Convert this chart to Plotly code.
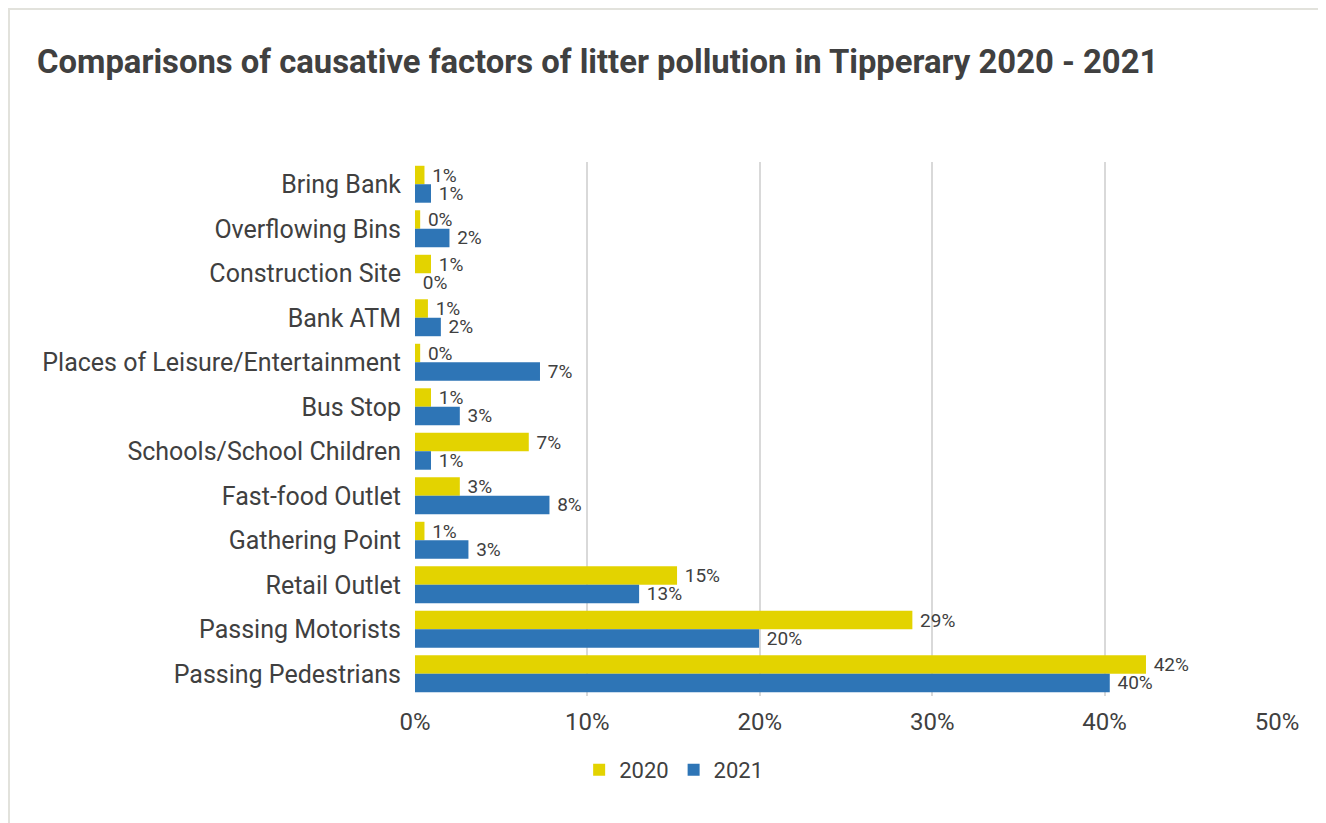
import plotly.graph_objects as go

categories = ["Bring Bank", "Overflowing Bins", "Construction Site", "Bank ATM",
              "Places of Leisure/Entertainment", "Bus Stop", "Schools/School Children",
              "Fast-food Outlet", "Gathering Point", "Retail Outlet",
              "Passing Motorists", "Passing Pedestrians"]
values_2020 = [0.0055, 0.003, 0.0093, 0.0075, 0.003, 0.0093, 0.066, 0.026, 0.0055, 0.152, 0.2885, 0.424]
values_2021 = [0.0093, 0.020, 0.0, 0.015, 0.0725, 0.026, 0.0093, 0.078, 0.031, 0.130, 0.1996, 0.403]
x_ticks = [0, 0.1, 0.2, 0.3, 0.4, 0.5]

TEXT = "#404040"
FONT = "Roboto"

fig = go.Figure()
for name, vals, col in [("2020", values_2020, "#E3D300"), ("2021", values_2021, "#2E75B6")]:
    fig.add_trace(go.Bar(name=name, y=categories, x=vals, orientation="h",
                         marker=dict(color=col, line=dict(width=0)),
                         texttemplate=" %{x:.0%}", textposition="outside",
                         cliponaxis=False, constraintext="none",
                         textfont=dict(size=19, color=TEXT, family=FONT)))

# page has an 8px offset; coordinates below are figure coordinates
W, H = 1326, 823
L, R, T, B = 407, 57, 154, 135
pw, ph = W - L - R, H - T - B

def px(x):
    return (x - L) / pw

def py(y):
    return (H - B - y) / ph

fig.update_layout(
    width=W, height=H,
    margin=dict(l=L, r=R, t=T, b=B),
    paper_bgcolor="white", plot_bgcolor="white",
    barmode="group", bargap=0.17, bargroupgap=0,
    font=dict(family=FONT, color=TEXT, size=22),
    title=dict(text="<b>Comparisons of causative factors of litter pollution in Tipperary 2020 - 2021</b>",
               x=29 / W, xanchor="left", y=1 - 54 / H, yanchor="middle",
               font=dict(size=32.8, color=TEXT, family=FONT)),
    xaxis=dict(range=[0, 0.5], tickvals=x_ticks, tickformat=".0%",
               showgrid=True, gridcolor="#D9D9D9", gridwidth=2,
               zeroline=False, showline=False,
               tickfont=dict(size=24, color=TEXT), ticks="outside", ticklen=4,
               tickcolor="rgba(0,0,0,0)", fixedrange=True),
    yaxis=dict(autorange="reversed", showgrid=False, zeroline=False,
               showline=False, ticks="outside", ticklen=8,
               tickcolor="rgba(0,0,0,0)",
               tickfont=dict(size=25, color=TEXT)),
    legend=dict(orientation="h", xref="container", yref="container",
                x=0.502, xanchor="center", y=1 - 762 / H, yanchor="middle",
                font=dict(size=22, color=TEXT), itemwidth=30,
                traceorder="normal"),
    shapes=[dict(type="rect", xref="paper", yref="paper",
                 x0=px(1), x1=px(1340), y0=py(1), y1=py(840),
                 line=dict(color="#E2E2DC", width=2), layer="below")],
)

fig.write_html("out.html")
